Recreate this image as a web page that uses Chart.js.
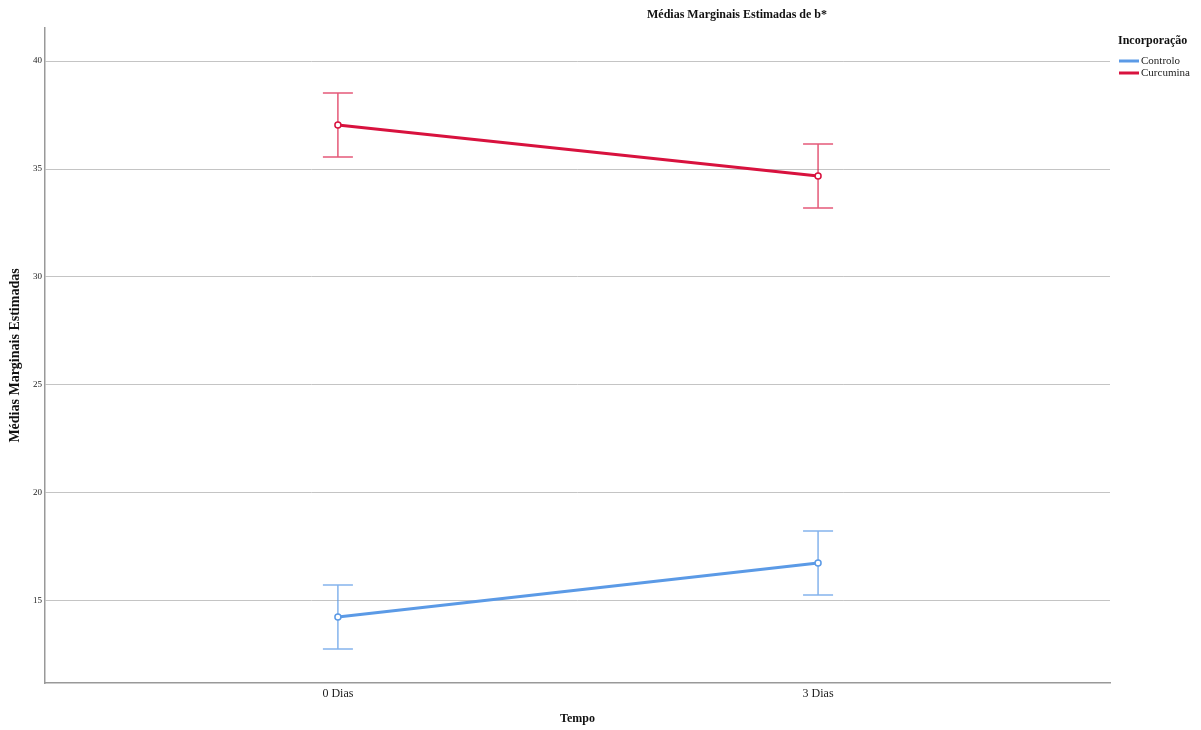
<!DOCTYPE html>
<html>
<head>
<meta charset="utf-8">
<script src="https://cdn.jsdelivr.net/npm/chart.js@4.4.0/dist/chart.umd.min.js"></script>
<style>
  body { margin: 0; background: #fff; }
</style>
</head>
<body>
<canvas id="myChart" width="1201" height="730"></canvas>
<script>
// dados
const tempos = ['0 Dias', '3 Dias'];
const controloMedia = [14.26, 16.76];
const controloInf = [12.78, 15.28];
const controloSup = [15.74, 18.24];
const curcuminaMedia = [37.04, 34.68];
const curcuminaInf = [35.56, 33.19];
const curcuminaSup = [38.52, 36.16];
const yTicks = [15, 20, 25, 30, 35, 40];

const azul = '#5b9ae6';
const vermelho = '#d8123e';

const ctx = document.getElementById('myChart');
Chart.defaults.font.family = "'Liberation Serif', 'Times New Roman', serif";
Chart.defaults.color = '#222';

function toPoints(values) {
    return values.map((v, i) => ({ x: i, y: v }));
}

// barras de erro desenhadas com as escalas do gráfico
const errorBars = {
    id: 'errorBars',
    beforeDatasetsDraw(chart) {
        const c = chart.ctx;
        const xs = chart.scales.x, ys = chart.scales.y;
        const series = [
            { inf: controloInf, sup: controloSup, color: 'rgba(91,154,230,0.75)' },
            { inf: curcuminaInf, sup: curcuminaSup, color: 'rgba(216,18,62,0.7)' }
        ];
        c.save();
        c.lineWidth = 1.5;
        series.forEach(s => {
            c.strokeStyle = s.color;
            s.inf.forEach((lo, i) => {
                const px = xs.getPixelForValue(i);
                const y1 = ys.getPixelForValue(lo);
                const y2 = ys.getPixelForValue(s.sup[i]);
                c.beginPath();
                c.moveTo(px, y1); c.lineTo(px, y2);
                c.moveTo(px - 15, y1); c.lineTo(px + 15, y1);
                c.moveTo(px - 15, y2); c.lineTo(px + 15, y2);
                c.stroke();
            });
        });
        c.restore();
    }
};

// título e legenda
const extras = {
    id: 'extras',
    afterDraw(chart) {
        const c = chart.ctx;
        c.save();
        c.fillStyle = '#111';
        c.font = "bold 12px 'Liberation Serif'";
        c.textAlign = 'center';
        c.textBaseline = 'middle';
        c.fillText('Médias Marginais Estimadas de b*', 737, 15);

        c.textAlign = 'left';
        c.fillText('Incorporação', 1118, 41);
        c.font = "11px 'Liberation Serif'";
        const items = [['Controlo', azul, 61], ['Curcumina', vermelho, 73]];
        items.forEach(([label, color, y]) => {
            c.strokeStyle = color;
            c.lineWidth = 3;
            c.beginPath();
            c.moveTo(1119, y); c.lineTo(1139, y);
            c.stroke();
            c.fillStyle = '#222';
            c.fillText(label, 1141, y);
        });
        c.restore();
    }
};

new Chart(ctx, {
    type: 'line',
    data: {
        datasets: [{
            label: 'Controlo',
            data: toPoints(controloMedia),
            borderColor: azul,
            borderWidth: 3,
            pointRadius: 3,
            pointBorderWidth: 1.5,
            pointBackgroundColor: '#fff',
            pointBorderColor: azul
        }, {
            label: 'Curcumina',
            data: toPoints(curcuminaMedia),
            borderColor: vermelho,
            borderWidth: 3,
            pointRadius: 3,
            pointBorderWidth: 1.5,
            pointBackgroundColor: '#fff',
            pointBorderColor: vermelho
        }]
    },
    options: {
        responsive: false,
        animation: false,
        devicePixelRatio: 1,
        layout: { padding: { top: 28, right: 91, left: 0, bottom: 0 } },
        plugins: {
            legend: { display: false },
            tooltip: { enabled: false }
        },
        scales: {
            x: {
                type: 'linear',
                min: -0.61,
                max: 1.608,
                afterBuildTicks: scale => { scale.ticks = tempos.map((t, i) => ({ value: i })); },
                afterFit: scale => { scale.height = 47; },
                ticks: {
                    callback: v => tempos[v],
                    font: { size: 12 },
                    padding: 4,
                    maxRotation: 0
                },
                grid: { drawOnChartArea: false, drawTicks: false, color: 'transparent' },
                border: { display: true, color: '#999', width: 1.5 },
                title: {
                    display: true,
                    text: 'Tempo',
                    font: { size: 12, weight: 'bold' },
                    color: '#111',
                    padding: { top: 4, bottom: 4 }
                }
            },
            y: {
                min: 11.2,
                max: 41.53,
                afterBuildTicks: scale => { scale.ticks = yTicks.map(v => ({ value: v })); },
                afterFit: scale => { scale.width = 45; },
                ticks: { font: { size: 9 }, padding: 3 },
                grid: { color: '#c4c4c4', drawTicks: false, lineWidth: 1 },
                border: { display: true, color: '#999', width: 1.5 },
                title: {
                    display: true,
                    text: 'Médias Marginais Estimadas',
                    font: { size: 14, weight: 'bold' },
                    color: '#111',
                    padding: { top: 7, bottom: 7 }
                }
            }
        }
    },
    plugins: [errorBars, extras]
});
</script>
</body>
</html>
